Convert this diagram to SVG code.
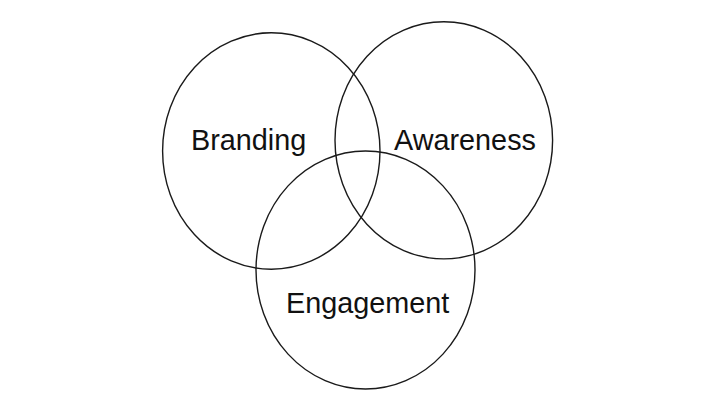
<svg xmlns="http://www.w3.org/2000/svg" width="721" height="406" viewBox="0 0 721 406">
<style>
.c{fill:none;stroke:#1a1a1a;stroke-width:1.4}
.t{font-family:"Liberation Sans",Arial,sans-serif;font-size:28.8px;fill:#111}
</style>
<rect width="721" height="406" fill="#fff"/>
<g id="branding"><ellipse class="c" cx="271.3" cy="151" rx="108.7" ry="118.2"/><text class="t" x="191" y="150">Branding</text></g>
<g id="awareness"><ellipse class="c" cx="443.8" cy="140.3" rx="108.8" ry="118.6"/><text class="t" x="394" y="150">Awareness</text></g>
<g id="engagement"><ellipse class="c" cx="365.5" cy="270" rx="109.5" ry="119"/><text class="t" x="286" y="313">Engagement</text></g>
<g id="connectors"/>
</svg>
